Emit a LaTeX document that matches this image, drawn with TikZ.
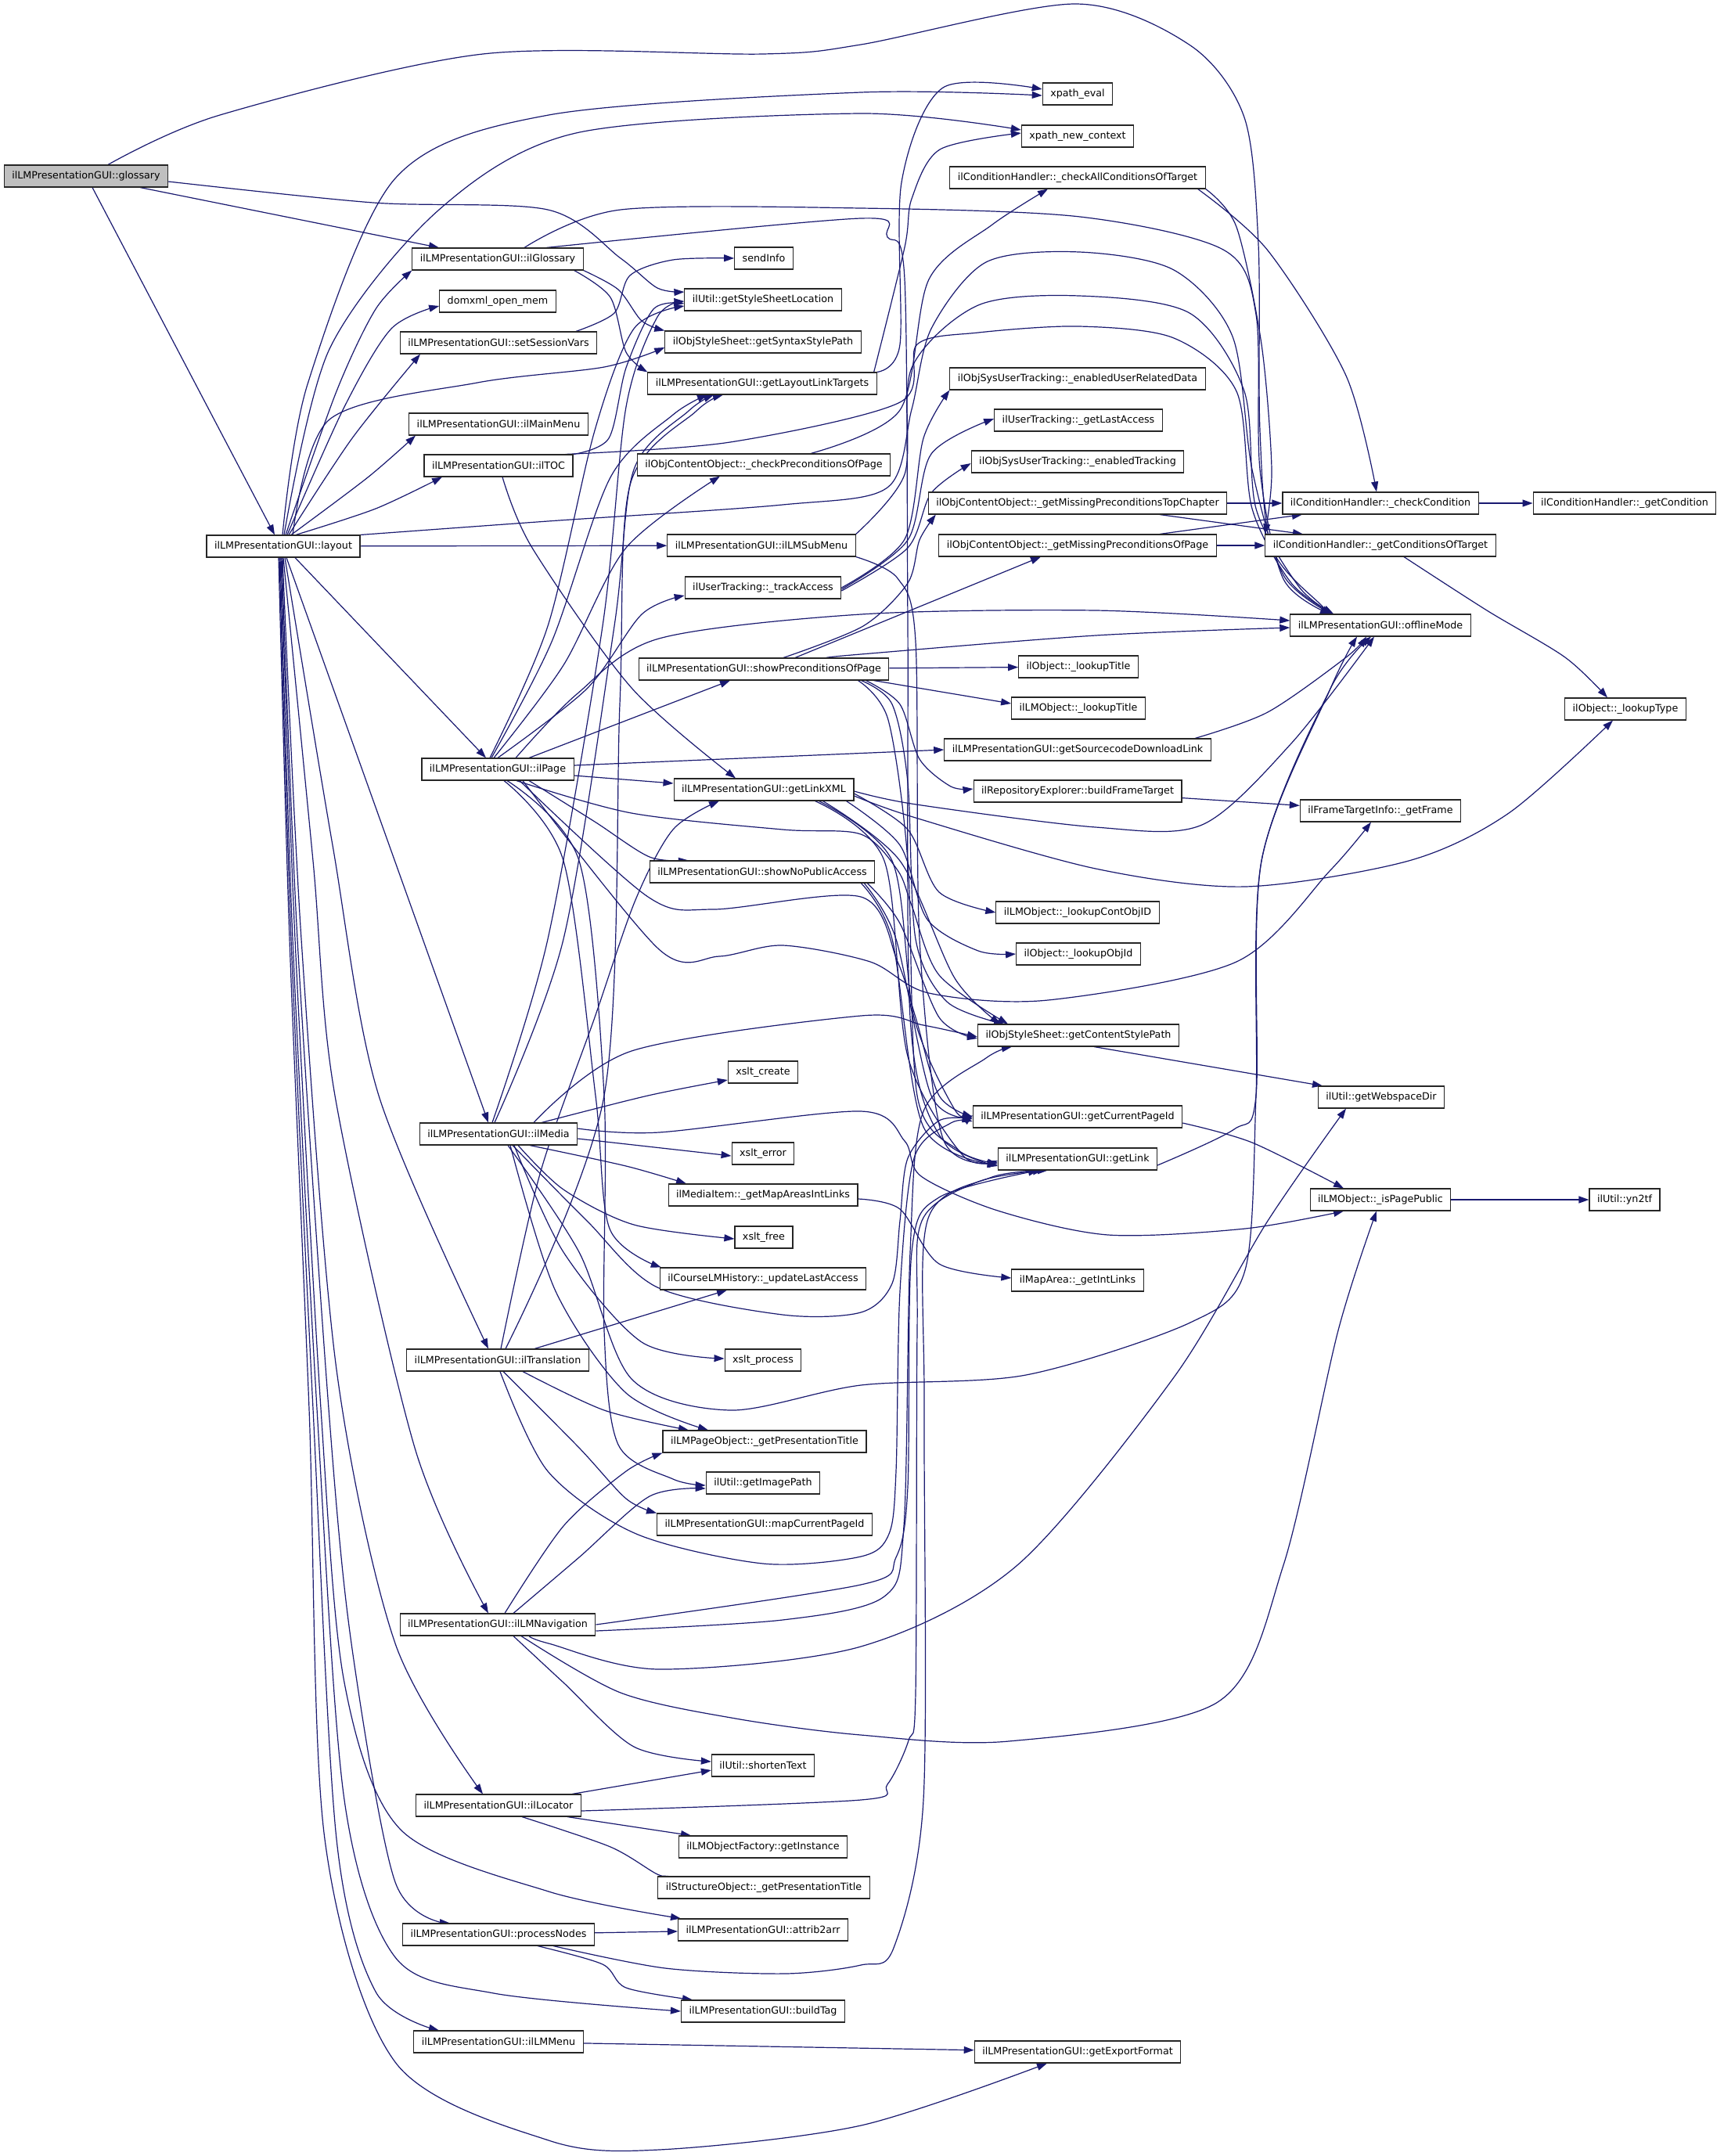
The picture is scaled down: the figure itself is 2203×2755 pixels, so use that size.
\documentclass[tikz,border=0pt]{standalone}
\usepackage{fontspec}
\setmainfont{DejaVu Sans}
\usetikzlibrary{arrows.meta}
\definecolor{edgeblue}{HTML}{191970}
\pgfdeclarelayer{background}
\pgfsetlayers{background,main}
\tikzset{
  fn/.style={draw=black!85, line width=1.1pt, fill=white, font=\fontsize{12.7pt}{14pt}\selectfont,
    inner xsep=10pt, inner ysep=0pt, minimum height=28pt},
  call/.style={draw=edgeblue, line width=1.2pt, -{Triangle[length=13pt,width=9pt]}},
}
\begin{document}
\begin{tikzpicture}[x=1pt,y=-1pt]
\useasboundingbox (0,0) rectangle (2203,2755);

% Caller
\node[fn, fill=black!25] (gl) at (110,225) {ilLMPresentationGUI::glossary};
\node[fn] (lay) at (362,698) {ilLMPresentationGUI::layout};

% Second column
\foreach \n/\x/\y/\t in {
  ilg/636/331/ilLMPresentationGUI::ilGlossary,
  dom/636/385/domxml\_open\_mem,
  ssv/637/438/ilLMPresentationGUI::setSessionVars,
  imm/637/542/ilLMPresentationGUI::ilMainMenu,
  toc/637/595/ilLMPresentationGUI::ilTOC,
  pag/636/983/ilLMPresentationGUI::ilPage,
  med/637/1449/ilLMPresentationGUI::ilMedia,
  tra/636/1738/ilLMPresentationGUI::ilTranslation,
  nav/636/2076/ilLMPresentationGUI::ilLMNavigation,
  loc/637/2307/ilLMPresentationGUI::ilLocator,
  pn/637/2472/ilLMPresentationGUI::processNodes,
  lmm/637/2609/ilLMPresentationGUI::ilLMMenu} {
  \node[fn] (\n) at (\x,\y) {\t};
}

% Third column
\foreach \n/\x/\y/\t in {
  si/976/330/sendInfo,
  gssl/975/383/ilUtil::getStyleSheetLocation,
  gssp/975/437/ilObjStyleSheet::getSyntaxStylePath,
  gllt/974/490/ilLMPresentationGUI::getLayoutLinkTargets,
  cpop/976/594/ilObjContentObject::\_checkPreconditionsOfPage,
  sub/973/697/ilLMPresentationGUI::ilLMSubMenu,
  ta/975/751/ilUserTracking::\_trackAccess,
  spop/976/855/ilLMPresentationGUI::showPreconditionsOfPage,
  glx/976/1009/ilLMPresentationGUI::getLinkXML,
  snpa/974/1114/ilLMPresentationGUI::showNoPublicAccess,
  xc/975/1370/xslt\_create,
  xer/975/1474/xslt\_error,
  gmail/975/1527/ilMediaItem::\_getMapAreasIntLinks,
  xf/976/1581/xslt\_free,
  ula/975/1634/ilCourseLMHistory::\_updateLastAccess,
  xp/975/1738/xslt\_process,
  pgt/977/1842/ilLMPageObject::\_getPresentationTitle,
  gip/975/1895/ilUtil::getImagePath,
  mcp/977/1948/ilLMPresentationGUI::mapCurrentPageId,
  st/975/2256/ilUtil::shortenText,
  gi/975/2360/ilLMObjectFactory::getInstance,
  sgpt/976/2412/ilStructureObject::\_getPresentationTitle,
  a2a/975/2466/ilLMPresentationGUI::attrib2arr,
  bt/975/2570/ilLMPresentationGUI::buildTag} {
  \node[fn] (\n) at (\x,\y) {\t};
}

% Fourth column
\foreach \n/\x/\y/\t in {
  xe/1377/120/xpath\_eval,
  xnc/1377/174/xpath\_new\_context,
  cact/1377/227/ilConditionHandler::\_checkAllConditionsOfTarget,
  eurd/1377/484/ilObjSysUserTracking::\_enabledUserRelatedData,
  gla/1378/537/ilUserTracking::\_getLastAccess,
  et/1377/590/ilObjSysUserTracking::\_enabledTracking,
  gmptc/1377/643/ilObjContentObject::\_getMissingPreconditionsTopChapter,
  gmpop/1377/697/ilObjContentObject::\_getMissingPreconditionsOfPage,
  olt/1378/852/ilObject::\_lookupTitle,
  lmlt/1378/905/ilLMObject::\_lookupTitle,
  gsdl/1377/958/ilLMPresentationGUI::getSourcecodeDownloadLink,
  bft/1377/1011/ilRepositoryExplorer::buildFrameTarget,
  lcoi/1377/1166/ilLMObject::\_lookupContObjID,
  loi/1378/1219/ilObject::\_lookupObjId,
  gcsp/1378/1323/ilObjStyleSheet::getContentStylePath,
  gcpi/1377/1427/ilLMPresentationGUI::getCurrentPageId,
  glk/1377/1481/ilLMPresentationGUI::getLink,
  gia/1377/1636/ilMapArea::\_getIntLinks,
  gef/1377/2622/ilLMPresentationGUI::getExportFormat} {
  \node[fn] (\n) at (\x,\y) {\t};
}

% Fifth and sixth columns
\foreach \n/\x/\y/\t in {
  cc/1764/643/ilConditionHandler::\_checkCondition,
  gcot/1764/697/ilConditionHandler::\_getConditionsOfTarget,
  om/1764/799/ilLMPresentationGUI::offlineMode,
  gf/1764/1036/ilFrameTargetInfo::\_getFrame,
  gwd/1765/1402/ilUtil::getWebspaceDir,
  ipp/1764/1533/ilLMObject::\_isPagePublic,
  gc/2076/643/ilConditionHandler::\_getCondition,
  olty/2077/906/ilObject::\_lookupType,
  yn/2076/1533/ilUtil::yn2tf} {
  \node[fn] (\n) at (\x,\y) {\t};
}

\begin{pgfonlayer}{background}
\fill[white] (0,0) rectangle (2203,2755);

% Straight calls
\foreach \a/\b in {lay/sub, gmptc/cc, gmpop/gcot, cc/gc, ipp/yn, lmm/gef, pn/a2a, spop/olt, bft/gf} {
  \draw[call] (\a) -- (\b);
}

% glossary
\draw[call] ([xshift=69pt]gl.south) -- ([xshift=-75pt]ilg.north);
\draw[call] plot[smooth] coordinates {([yshift=-7pt]gl.east) (477,259) (700,268) (793,330) (840,368) ([yshift=10pt]gssl.west)};
\draw[call] ([xshift=8pt]gl.south) -- ([xshift=-11pt]lay.north);
\draw[call] plot[smooth] coordinates {([xshift=28pt]gl.north) (281,147) (617,69) (975,69) (1100,57) (1374,5) (1521,58) (1590,150) (1608,312) (1610,550) (1625,700) (1690,775) ([xshift=-64pt]om.north)};

% layout, upwards
\draw[call] plot[smooth] coordinates {([xshift=-1pt]lay.north) (393,491) (505,228) (701,147) (1100,118) ([yshift=-2pt]xe.west)};
\draw[call] plot[smooth] coordinates {([xshift=1pt]lay.north) (421,446) (561,268) (736,170) (1100,145) ([yshift=8pt]xnc.west)};
\draw[call] plot[smooth] coordinates {([xshift=3pt]lay.north) (430,500) (480,395) (ilg.south west)};
\draw[call] plot[smooth] coordinates {([xshift=5pt]lay.north) (440,520) (500,420) ([yshift=-6pt]dom.west)};
\draw[call] plot[smooth] coordinates {([xshift=7pt]lay.north) (450,560) ([xshift=-100pt]ssv.south)};
\draw[call] plot[smooth] coordinates {([xshift=10pt]lay.north) (470,610) ([xshift=-106pt]imm.south)};
\draw[call] plot[smooth] coordinates {([xshift=16pt]lay.north) (480,650) ([xshift=-72pt]toc.south)};
\draw[call] plot[smooth] coordinates {([xshift=12pt]lay.north) (421,536) (610,489) (772,469) ([yshift=-7pt]gssp.west)};
\draw[call] plot[smooth] coordinates {(lay.north east) (700,666) (1000,645) (1134,623) (1165,523) (1190,420) (1260,335) (1379,322) (1500,345) (1575,430) (1600,600) (1640,735) ([xshift=-62pt]om.north)};

% layout, downwards
\draw[call] ([xshift=15pt]lay.south) -- ([xshift=-15pt]pag.north);
\draw[call] ([xshift=4pt]lay.south) -- ([xshift=-13pt]med.north);
\draw[call] plot[smooth] coordinates {([xshift=2pt]lay.south) (425,1080) (484,1400) ([xshift=-12pt]tra.north)};
\draw[call] plot[smooth] coordinates {(lay.south) (400,1100) (428,1400) (530,1850) ([xshift=-12pt]nav.north)};
\draw[call] plot[smooth] coordinates {([xshift=-1pt]lay.south) (385,1200) (430,1750) (505,2100) ([xshift=-20pt]loc.north)};
\draw[call] plot[smooth] coordinates {([xshift=-2pt]lay.south) (380,1200) (420,1800) (449,2100) (505,2405) ([xshift=-62pt]pn.north)};
\draw[call] plot[smooth] coordinates {([xshift=-3pt]lay.south) (377,1200) (410,1800) (440,2150) (512,2338) (701,2417) ([xshift=-105pt]a2a.north)};
\draw[call] plot[smooth] coordinates {([xshift=-4pt]lay.south) (374,1200) (405,1800) (440,2300) (505,2501) (631,2547) (bt.west)};
\draw[call] plot[smooth] coordinates {([xshift=-5pt]lay.south) (372,1200) (400,1800) (430,2350) (480,2545) ([xshift=-76pt]lmm.north)};
\draw[call] plot[smooth] coordinates {([xshift=-6pt]lay.south) (370,1200) (395,1800) (415,2350) (505,2635) (701,2735) (842,2747) (1100,2716) ([xshift=-39pt]gef.south)};

% ilGlossary
\draw[call] plot[smooth] coordinates {([xshift=34pt]ilg.north) (793,268) (1100,266) (1380,277) (1563,319) (1605,402) (1610,600) (1640,740) ([xshift=-64pt]om.north)};
\draw[call] plot[smooth] coordinates {(ilg.south east) (790,370) (820,410) (gssp.north west)};
\draw[call] plot[smooth] coordinates {([xshift=-12pt]ilg.south east) (780,380) (800,450) (gllt.north west)};
\draw[call] plot[smooth] coordinates {([xshift=62pt]ilg.north) (1100,279) (1134,303) (1156,357) (1160,800) (1163,1300) (1200,1450) ([yshift=-9pt]glk.west)};

% setSessionVars, ilTOC, ilLMSubMenu
\draw[call] plot[smooth] coordinates {([xshift=99pt]ssv.north) (785,400) (805,352) (860,332) (si.west)};
\draw[call] plot[smooth] coordinates {(toc.north east) (778,560) (800,470) (835,395) ([yshift=-5pt]gssl.west)};
\draw[call] plot[smooth] coordinates {([xshift=-10pt]toc.north east) (933,565) (1150,514) (1172,440) (1250,425) (1379,417) (1500,432) (1580,500) (1600,650) (1650,745) ([xshift=-60pt]om.north)};
\draw[call] plot[smooth] coordinates {([xshift=5pt]toc.south) (680,700) (807,879) ([xshift=-36pt]glx.north)};
\draw[call] plot[smooth] coordinates {(sub.north east) (1156,606) (1165,470) (1250,390) (1379,378) (1520,400) (1590,500) (1605,650) (1660,750) ([xshift=-60pt]om.north)};
\draw[call] plot[smooth] coordinates {(sub.south east) (1147,739) (1170,820) (1175,1200) (1205,1455) ([yshift=-4pt]glk.west)};

% layout link targets and conditions
\draw[call] plot[smooth] coordinates {(gllt.north east) (1150,440) (1152,233) (1205,112) ([yshift=6pt]xe.west)};
\draw[call] plot[smooth] coordinates {([xshift=-4pt]gllt.north east) (1156,316) (1165,254) (1201,191) ([yshift=4pt]xnc.west)};
\draw[call] plot[smooth] coordinates {([xshift=60pt]cpop.north) (1150,524) (1187,357) (1268,287) ([xshift=-38pt]cact.south)};
\draw[call] plot[smooth] coordinates {([xshift=-10pt]cact.south east) (1620,320) (1720,480) ([xshift=-5pt]cc.north)};
\draw[call] plot[smooth] coordinates {(cact.south east) (1580,290) (1612,440) (1625,600) (gcot.north west)};
\draw[call] ([xshift=105pt]gmptc.south) -- ([xshift=-99pt]gcot.north);
\draw[call] ([xshift=105pt]gmpop.north) -- ([xshift=-100pt]cc.south);
\draw[call] plot[smooth] coordinates {([xshift=30pt]gcot.south) (1900,780) (2000,840) ([xshift=-23pt]olty.north)};

% trackAccess
\draw[call] plot[smooth] coordinates {(ta.east) (1156,689) (1180,560) (eurd.south west)};
\draw[call] plot[smooth] coordinates {([yshift=-2pt]ta.east) (1160,690) (1190,580) ([yshift=2pt]gla.west)};
\draw[call] plot[smooth] coordinates {([yshift=-4pt]ta.east) (1160,700) (1190,630) ([yshift=-2pt]et.west)};

% showPreconditionsOfPage
\draw[call] plot[smooth] coordinates {([xshift=80pt]spop.north) (1100,836) (1400,812) ([yshift=-3pt]om.west)};
\draw[call] plot[smooth] coordinates {([xshift=25pt]spop.north) (1103,800) (1160,745) (1175,690) ([xshift=10pt]gmptc.south west)};
\draw[call] ([xshift=40pt]spop.north) -- ([xshift=-47pt]gmpop.south);
\draw[call] ([xshift=-20pt]spop.south east) -- ([yshift=6pt]lmlt.west);
\draw[call] plot[smooth] coordinates {([xshift=-30pt]spop.south east) (1150,900) (1175,970) (1215,1005) ([yshift=3pt]bft.west)};
\draw[call] plot[smooth] coordinates {([xshift=-36pt]spop.south east) (1140,900) (1160,1000) (1170,1200) (1210,1280) ([xshift=-95pt]gcsp.north)};
\draw[call] plot[smooth] coordinates {([xshift=-40pt]spop.south east) (1135,920) (1160,1100) (1172,1400) (1225,1470) ([yshift=-6pt]glk.west)};

% ilPage
\draw[call] plot[smooth] coordinates {([xshift=23pt]pag.north) (737,887) (842,816) (1100,785) (1400,780) ([yshift=6pt]om.west)};
\draw[call] plot[smooth] coordinates {([xshift=-10pt]pag.north) (700,800) (760,550) (810,420) ([yshift=-8pt]gssl.west)};
\draw[call] plot[smooth] coordinates {([xshift=-8pt]pag.north) (705,820) (780,610) (860,530) ([xshift=-70pt]gllt.south)};
\draw[call] plot[smooth] coordinates {([xshift=-5pt]pag.north) (720,850) (800,700) ([xshift=-56pt]cpop.south)};
\draw[call] plot[smooth] coordinates {(pag.north) (750,880) (820,785) ([yshift=-10pt]ta.west)};
\draw[call] ([xshift=40pt]pag.north) -- ([xshift=-43pt]spop.south);
\draw[call] ([yshift=5pt]pag.east) -- (gsdl.west);
\draw[call] ([yshift=-8pt]pag.east) -- ([yshift=8pt]glx.west);
\draw[call] plot[smooth] coordinates {([xshift=40pt]pag.south) (760,1050) (830,1095) ([xshift=-94pt]snpa.north)};
\draw[call] plot[smooth] coordinates {([xshift=24pt]pag.south) (807,1039) (1000,1060) (1100,1066) (1147,1112) (1165,1157) (1200,1246) ([xshift=-90pt]gcsp.north)};
\draw[call] plot[smooth] coordinates {([xshift=28pt]pag.south) (828,1146) (912,1162) (1100,1146) (1147,1229) (1170,1300) (1200,1400) (gcpi.west)};
\draw[call] plot[smooth] coordinates {([xshift=32pt]pag.south) (842,1213) (919,1222) (1000,1208) (1112,1229) (1187,1269) (1339,1278) (1580,1229) (1700,1112) ([xshift=-12pt]gf.south)};
\draw[call] plot[smooth] coordinates {([xshift=8pt]pag.south) (720,1100) (761,1400) (779,1570) ([xshift=2pt]ula.north west)};
\draw[call] plot[smooth] coordinates {([xshift=12pt]pag.south) (740,1100) (772,1400) (772,1700) (790,1846) (860,1890) ([yshift=-3pt]gip.west)};

% ilMedia
\draw[call] plot[smooth] coordinates {([xshift=-8pt]med.north) (700,1200) (770,800) (800,520) (840,405) ([yshift=-2pt]gssl.west)};
\draw[call] plot[smooth] coordinates {([xshift=-5pt]med.north) (720,1200) (785,800) (810,600) (880,525) ([xshift=-62pt]gllt.south)};
\draw[call] plot[smooth] coordinates {([xshift=55pt]med.north) (828,1400) ([yshift=-10pt]xc.west)};
\draw[call] ([yshift=-6pt]med.east) -- ([yshift=-3pt]xer.west);
\draw[call] plot[smooth] coordinates {([xshift=40pt]med.south) (800,1490) ([xshift=-98pt]gmail.north)};
\draw[call] plot[smooth] coordinates {([xshift=25pt]med.south) (720,1520) (810,1565) ([yshift=-2pt]xf.west)};
\draw[call] plot[smooth] coordinates {([xshift=20pt]med.south) (720,1600) (820,1715) ([yshift=2pt]xp.west)};
\draw[call] plot[smooth] coordinates {([xshift=15pt]med.south) (710,1650) (800,1780) ([xshift=-72pt]pgt.north)};
\draw[call] plot[smooth] coordinates {([xshift=45pt]med.north) (807,1343) (1100,1298) (1180,1310) ([yshift=-2pt]gcsp.west)};
\draw[call] plot[smooth] coordinates {([yshift=7pt]med.east) (842,1447) (1100,1420) (1156,1458) (1177,1503) (1275,1547) (1416,1578) (1591,1570) ([xshift=-47pt]ipp.south)};
\draw[call] plot[smooth] coordinates {([xshift=18pt]med.south) (750,1560) (840,1645) (1000,1680) (1100,1677) (1140,1640) (1150,1560) (1160,1480) (1200,1432) ([yshift=-3pt]gcpi.west)};
\draw[call] plot[smooth] coordinates {([xshift=12pt]med.south) (740,1600) (807,1762) (933,1802) (1100,1770) (1311,1757) (1521,1690) (1591,1623) (1605,1400) (1612,1100) (1700,880) ([xshift=-30pt]om.south)};

% ilTranslation
\draw[call] plot[smooth] coordinates {([xshift=10pt]tra.north) (772,1400) (792,900) (805,620) (890,525) ([xshift=-50pt]gllt.south)};
\draw[call] plot[smooth] coordinates {([xshift=4pt]tra.north) (690,1500) (760,1300) (812,1150) (860,1060) ([xshift=-57pt]glx.south)};
\draw[call] ([xshift=47pt]tra.north) -- ([xshift=-46pt]ula.south);
\draw[call] plot[smooth] coordinates {([xshift=32pt]tra.south) (772,1802) ([xshift=-97pt]pgt.north)};
\draw[call] plot[smooth] coordinates {([xshift=7pt]tra.south) (740,1850) (800,1915) (mcp.north west)};
\draw[call] plot[smooth] coordinates {([xshift=3pt]tra.south) (700,1880) (813,1960) (975,1998) (1100,1989) (1136,1960) (1145,1880) (1150,1650) (1168,1480) (1215,1435) ([yshift=-6pt]gcpi.west)};

% ilLMNavigation
\draw[call] plot[smooth] coordinates {([xshift=9pt]nav.north) (720,1950) (800,1880) (pgt.south west)};
\draw[call] plot[smooth] coordinates {([xshift=20pt]nav.north) (740,1990) (830,1912) ([yshift=-7pt]gip.west)};
\draw[call] plot[smooth] coordinates {([xshift=20pt]nav.south) (720,2150) (810,2232) ([yshift=5pt]st.west)};
\draw[call] plot[smooth] coordinates {(nav.east) (1100,2025) (1145,1990) (1160,1900) (1165,1600) (1200,1530) ([xshift=-50pt]glk.south)};
\draw[call] plot[smooth] coordinates {([yshift=-8pt]nav.east) (1000,2070) (1130,2040) (1155,1950) (1163,1600) (1180,1420) (1260,1352) ([xshift=-85pt]gcsp.south)};
\draw[call] plot[smooth] coordinates {([xshift=40pt]nav.south) (701,2100) (842,2133) (1100,2104) (1300,2000) (1500,1760) (1620,1560) ([xshift=-45pt]gwd.south)};
\draw[call] plot[smooth] coordinates {([xshift=30pt]nav.south) (793,2163) (940,2196) (1100,2217) (1289,2225) (1556,2175) (1640,2000) (1710,1700) ([xshift=-5pt]ipp.south)};

% ilLocator and processNodes
\draw[call] ([xshift=94pt]loc.north) -- ([yshift=-6pt]st.west);
\draw[call] plot[smooth] coordinates {([yshift=-7pt]loc.east) (1100,2300) (1134,2280) (1161,2224) (1170,2163) (1172,1700) (1178,1560) (1250,1510) ([xshift=-44pt]glk.south)};
\draw[call] ([xshift=88pt]loc.south) -- ([xshift=-92pt]gi.north);
\draw[call] plot[smooth] coordinates {([xshift=30pt]loc.south) (780,2360) (840,2395) ([xshift=-115pt]sgpt.north)};
\draw[call] plot[smooth] coordinates {([xshift=50pt]pn.south) (770,2510) (800,2540) ([xshift=-90pt]bt.north)};
\draw[call] plot[smooth] coordinates {([xshift=70pt]pn.south) (850,2515) (1003,2522) (1100,2511) (1142,2489) (1180,2300) (1181,1800) (1185,1560) (1265,1505) ([xshift=-38pt]glk.south)};

% getLinkXML and showNoPublicAccess
\draw[call] plot[smooth] coordinates {([yshift=-5pt]glx.east) (1160,1060) (1200,1140) (lcoi.west)};
\draw[call] plot[smooth] coordinates {([xshift=-10pt]glx.south east) (1150,1080) (1185,1175) (1250,1215) (loi.west)};
\draw[call] plot[smooth] coordinates {([xshift=-40pt]glx.south east) (1150,1100) (1220,1250) ([xshift=-100pt]gcsp.north)};
\draw[call] plot[smooth] coordinates {([xshift=-45pt]glx.south east) (1140,1100) (1168,1300) (1220,1418) ([yshift=2pt]gcpi.west)};
\draw[call] plot[smooth] coordinates {([xshift=-50pt]glx.south east) (1130,1100) (1160,1350) (1230,1476) ([yshift=-2pt]glk.west)};
\draw[call] plot[smooth] coordinates {([yshift=-2pt]glx.east) (1171,1028) (1400,1057) (1536,1054) (1650,950) ([xshift=-8pt]om.south)};
\draw[call] plot[smooth] coordinates {([yshift=-8pt]glx.east) (1170,1045) (1400,1110) (1591,1133) (1800,1100) (1928,1039) ([xshift=-16pt]olty.south)};
\draw[call] plot[smooth] coordinates {([xshift=-10pt]snpa.south east) (1150,1180) (1200,1300) ([yshift=-4pt]gcsp.west)};
\draw[call] plot[smooth] coordinates {([xshift=-14pt]snpa.south east) (1145,1200) (1190,1400) ([yshift=-1pt]gcpi.west)};
\draw[call] plot[smooth] coordinates {([xshift=-18pt]snpa.south east) (1140,1200) (1180,1440) ([yshift=-8pt]glk.west)};

% right part
\draw[call] plot[smooth] coordinates {([xshift=150pt]gsdl.north) (1620,910) (1720,840) ([xshift=-18pt]om.south)};
\draw[call] ([xshift=20pt]gcsp.south) -- ([xshift=-75pt]gwd.north);
\draw[call] plot[smooth] coordinates {([yshift=-8pt]gcpi.east) (1600,1460) ([xshift=-47pt]ipp.north)};
\draw[call] plot[smooth] coordinates {([yshift=-8pt]glk.east) (1577,1443) (1605,1400) (1612,1100) (1700,880) ([xshift=-12pt]om.south)};
\draw[call] plot[smooth] coordinates {([yshift=-5pt]gmail.east) (1150,1545) (1200,1615) ([yshift=3pt]gia.west)};
\end{pgfonlayer}

\end{tikzpicture}
\end{document}
